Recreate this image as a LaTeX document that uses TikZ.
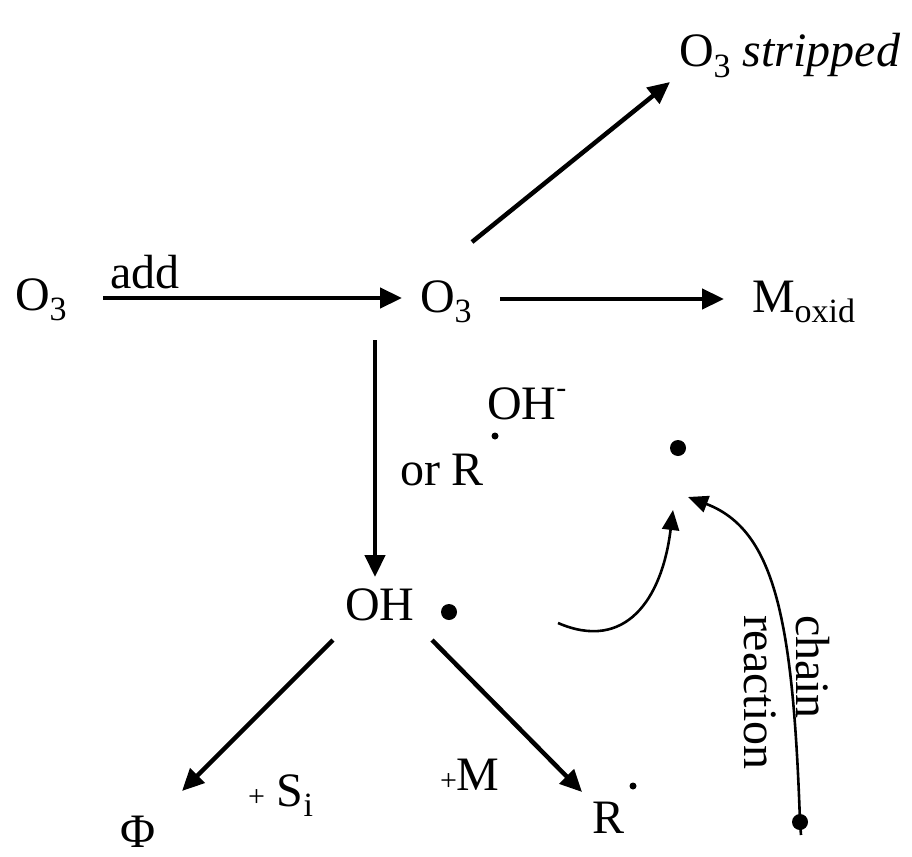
\documentclass[tikz,border=0pt]{standalone}
\usepackage{fontspec}
\setmainfont{Liberation Serif}
\usetikzlibrary{arrows.meta}
\newcommand{\mysub}[1]{\raisebox{-0.22em}{\fontsize{34}{34}\selectfont #1}}
\newcommand{\mysmall}[1]{{\fontsize{30}{30}\selectfont #1}}
\begin{document}
\begin{tikzpicture}[x=1pt,y=-1pt,
  lbl/.style={inner sep=0pt,outer sep=0pt,anchor=base west,font=\fontsize{48}{53}\selectfont},
  bigarrow/.style={line width=4.5pt,-{Triangle[length=22pt,width=20pt]}},
  curvearrow/.style={line width=2.6pt,-{Triangle[length=20pt,width=17pt]}},
  bigdot/.style={circle,fill=black,inner sep=0pt,minimum size=16pt},
  smalldot/.style={circle,fill=black,inner sep=0pt,minimum size=7pt}]
\useasboundingbox (0,0) rectangle (912,856);
% nodes
\node[lbl] (o3a) at (15,310) {O\mysub{3}};
\node[lbl] (add) at (110,288) {add};
\node[lbl] (o3b) at (420,312) {O\mysub{3}};
\node[lbl] (moxid) at (752,312) {M\mysub{oxid}};
\node[lbl] (strip) at (679,67) {O\mysub{3} \textit{stripped}};
\node[lbl] (ohm) at (487,419) {OH\raisebox{0.45em}{\mysmall{-}}};
\node[smalldot] (rdot1) at (495,436) {};
\node[lbl] (orr) at (400,485) {or R};
\node[bigdot] (cdot) at (678,448) {};
\node[lbl] (oh) at (345,620) {OH};
\node[bigdot] (ohdot) at (449,612) {};
\node[lbl] (phi) at (120,847) {Φ};
\node[lbl] (si) at (248,806) {\mysmall{+} S\mysub{i}};
\node[lbl] (pm) at (440,790) {\mysmall{+}M};
\node[lbl] (r) at (592,833) {R};
\node[smalldot] (rdot2) at (633,786) {};
\node[bigdot] (chdot) at (800,822) {};
\node[inner sep=0pt,outer sep=0pt,anchor=north west,rotate=-90,align=left,
      font=\fontsize{48}{52}\selectfont] (chain) at (830,615) {chain\\reaction};
% connector end points
\coordinate (a1s) at (103,298); \coordinate (a1e) at (402,298);
\coordinate (a2s) at (500,299); \coordinate (a2e) at (724,299);
\coordinate (a3s) at (472,242); \coordinate (a3e) at (670,82);
\coordinate (a4s) at (375,340); \coordinate (a4e) at (375,577);
\coordinate (a5s) at (333,640); \coordinate (a5e) at (182,791);
\coordinate (a6s) at (432,640); \coordinate (a6e) at (582,792);
\coordinate (c1s) at (558,623); \coordinate (c1e) at (673,510);
\coordinate (c2s) at (801,835); \coordinate (c2e) at (688,497);
% connectors
\draw[bigarrow] (a1s) -- (a1e);
\draw[bigarrow] (a2s) -- (a2e);
\draw[bigarrow] (a3s) -- (a3e);
\draw[bigarrow] (a4s) -- (a4e);
\draw[bigarrow] (a5s) -- (a5e);
\draw[bigarrow] (a6s) -- (a6e);
\draw[curvearrow] (c1s) .. controls (625,652) and (662,600) .. (c1e);
\draw[curvearrow] (c2s) -- (chdot.center) .. controls (793,620) and (775,530) .. (c2e);
\end{tikzpicture}
\end{document}
